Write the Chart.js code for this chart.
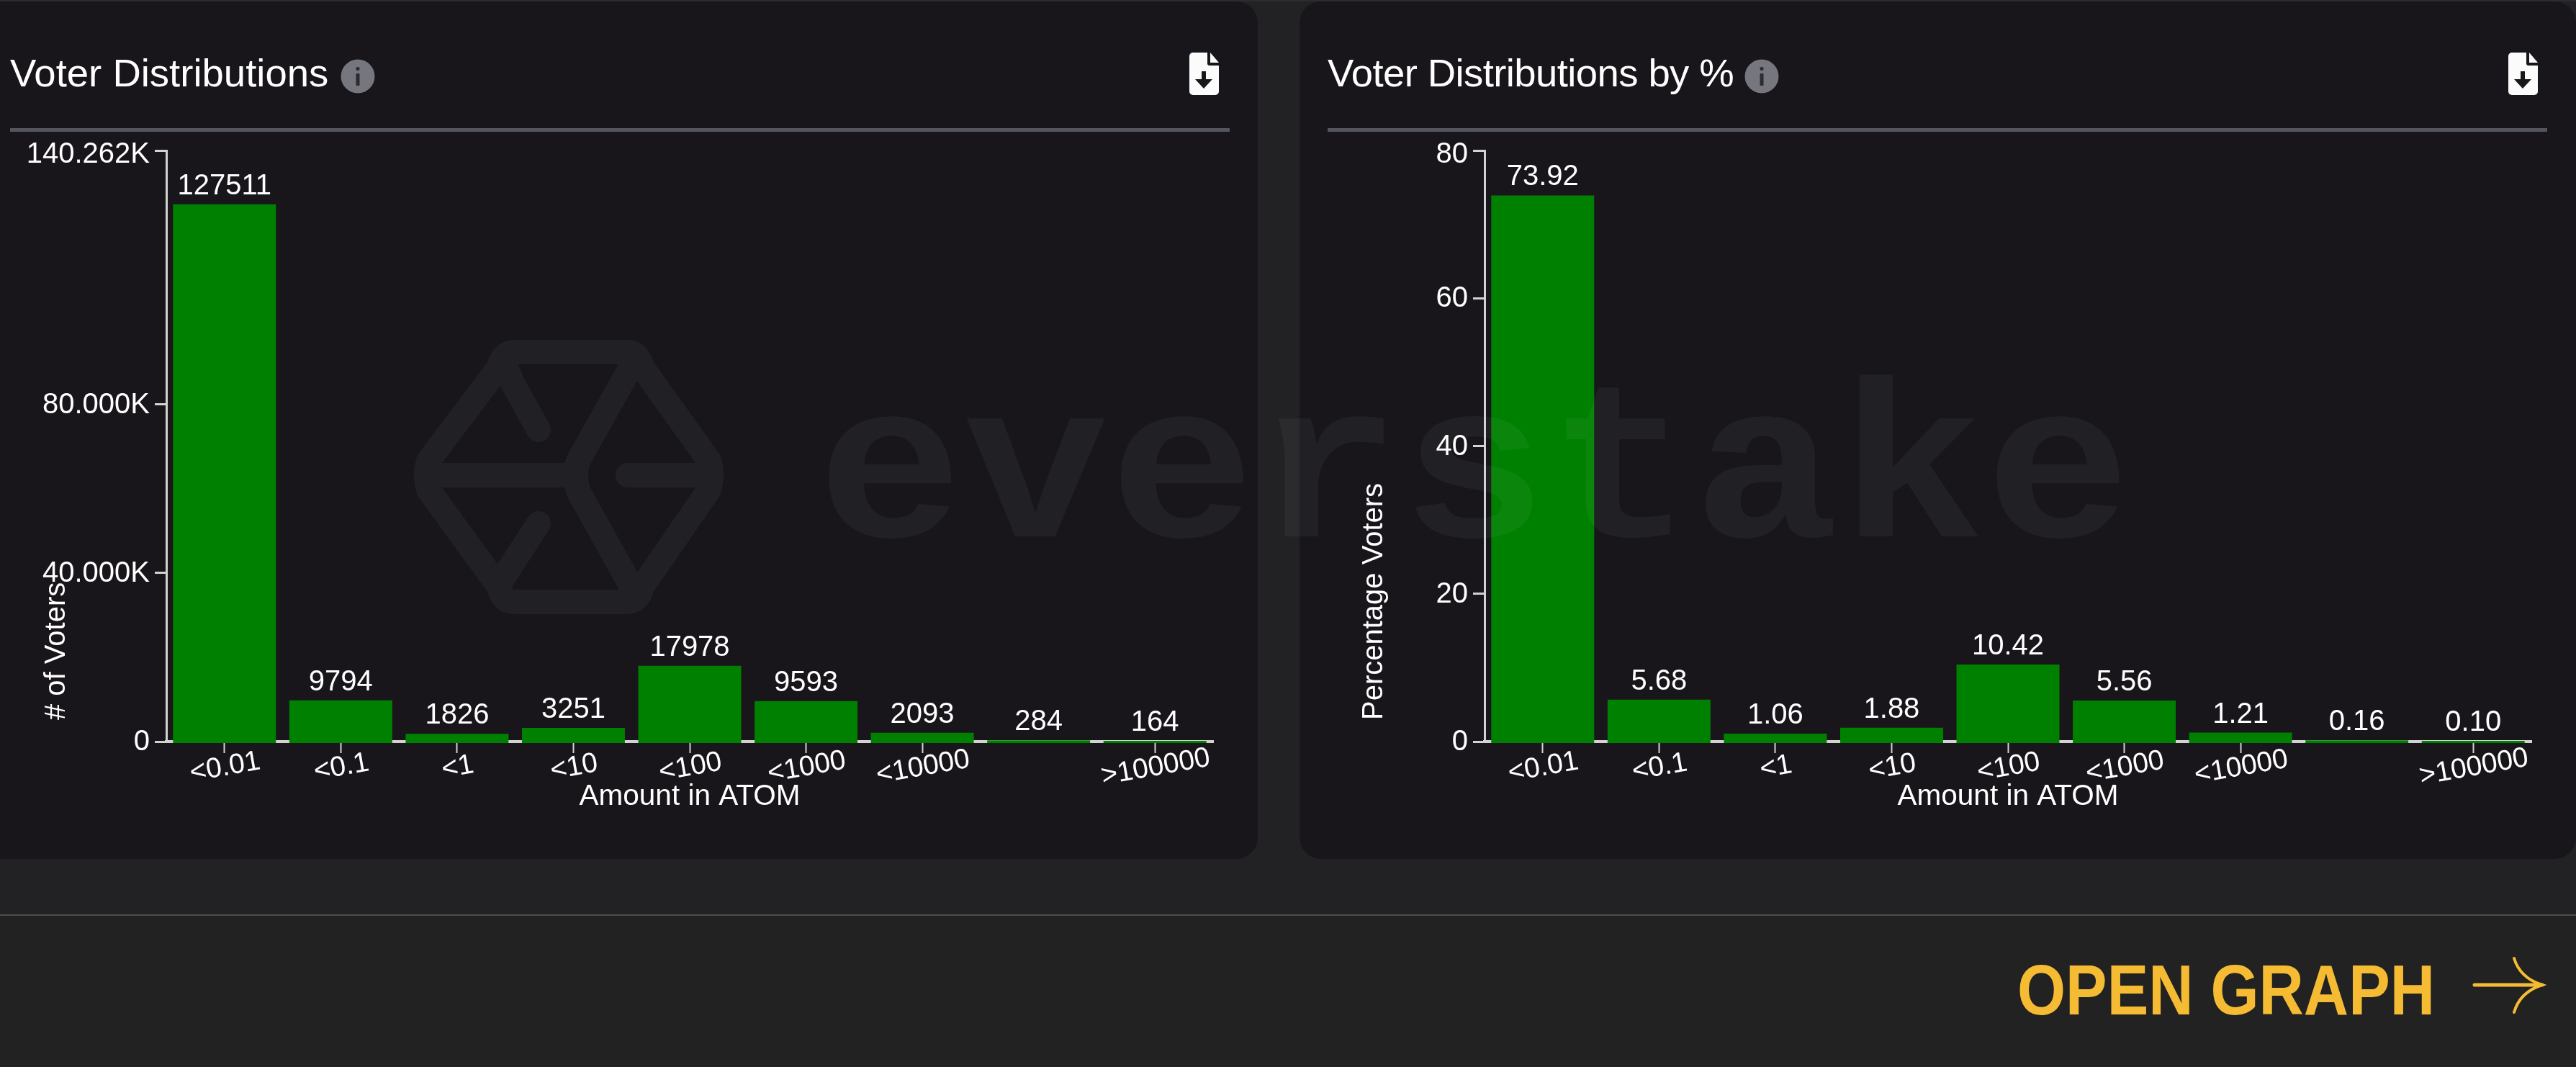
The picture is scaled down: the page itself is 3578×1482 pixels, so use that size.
<!DOCTYPE html>
<html>
<head>
<meta charset="utf-8">
<title>Voter Distributions</title>
<script src="https://cdn.jsdelivr.net/npm/chart.js@4/dist/chart.umd.min.js"></script>
<style>
html,body{margin:0;padding:0;width:3578px;height:1482px;overflow:hidden;background:#222225;font-family:"Liberation Sans",Arial,sans-serif}
.topline{position:absolute;left:0;top:0;width:3578px;height:2px;background:#2c2c2e}
.panel{position:absolute;top:2px;height:1191px;background:#18161b;border-radius:30px}
#p1{left:-30px;width:1777px}
#p2{left:1805px;width:1773px}
.title{position:absolute;top:74px;color:#fff;font-size:54.5px;line-height:55px;white-space:nowrap}
.rule{position:absolute;top:178px;height:5px;background:#55555f}
canvas{position:absolute;top:0}
#footer{position:absolute;left:0;top:1270px;width:3578px;height:212px;background:#222222;border-top:2px solid #4c4c4c;box-sizing:border-box}
svg{position:absolute;left:0;top:0}
</style>
</head>
<body>
<div class="topline"></div>
<div class="panel" id="p1"></div>
<div class="panel" id="p2"></div>
<div id="footer"></div>

<div class="title" style="left:14px">Voter Distributions</div>
<div class="title" style="left:1844px;letter-spacing:-0.6px">Voter Distributions by %</div>
<div class="rule" style="left:14px;width:1694px"></div>
<div class="rule" style="left:1844px;width:1694px"></div>

<canvas id="c1" width="1747" height="1195" style="left:0;width:1747px;height:1195px"></canvas>
<canvas id="c2" width="1773" height="1195" style="left:1805px;width:1773px;height:1195px"></canvas>

<svg width="3578" height="1482" viewBox="0 0 3578 1482">
  <defs>
    <g id="info">
      <circle cx="0" cy="0" r="23.5" fill="#76767e"/>
      <rect x="-2.5" y="-13" width="5" height="5" rx="2" fill="#2b2b30"/>
      <rect x="-2.5" y="-4" width="5" height="17" rx="1" fill="#2b2b30"/>
    </g>
    <g id="dl">
      <path d="M1657 73H1677V88a3 3 0 0 0 3 3H1693V127a5 5 0 0 1-5 5H1657a5 5 0 0 1-5-5V78a5 5 0 0 1 5-5Z" fill="#fbfbfb"/>
      <path d="M1681 73L1693 87H1681Z" fill="#fbfbfb"/>
      <path d="M1669 99H1675V110H1684L1672 123L1660 110H1669Z" fill="#18161b"/>
    </g>
  </defs>
  <use href="#info" x="497" y="106"/>
  <use href="#info" x="2447" y="106"/>
  <use href="#dl"/>
  <use href="#dl" x="1832"/>

  <!-- watermark -->
  <g opacity="0.045">
    <g fill="none" stroke="#fff" stroke-width="34" stroke-linecap="round" stroke-linejoin="round">
      <path d="M714 489H871Q887 489 892 510L985 640Q991 660 985 680L892 815Q887 836 871 836H714Q698 836 693 815L595 680Q589 660 595 640L693 510Q698 489 714 489Z"/>
      <path d="M880 503L803 640Q797 660 803 682L880 820M610 660H795M872 660H978"/>
      <path d="M700 510Q707 515 711 530L748 597M748 727L693 812"/>
    </g>
    <text x="1135" y="745" font-family="Liberation Mono" font-weight="700" font-size="310" fill="#fff" textLength="1825" lengthAdjust="spacingAndGlyphs">everstake</text>
  </g>

  <!-- open graph link -->
  <text x="2802" y="1409" font-family="Liberation Sans" font-weight="700" font-size="98" fill="#f5bc33" textLength="580" lengthAdjust="spacingAndGlyphs">OPEN GRAPH</text>
  <g fill="none" stroke="#f5bc33" stroke-linecap="round">
    <path d="M3437 1368H3531" stroke-width="5"/>
    <path d="M3492 1331Q3500 1358 3531 1368Q3500 1378 3492 1406" stroke-width="4"/>
  </g>
</svg>

<script>
const amountCategories = ["<0.01", "<0.1", "<1", "<10", "<100", "<1000", "<10000", "", ">100000"];
const voterCounts = [127511, 9794, 1826, 3251, 17978, 9593, 2093, 284, 164];
const voterPercents = [73.92, 5.68, 1.06, 1.88, 10.42, 5.56, 1.21, 0.16, 0.10];
const countTicks = [0, 40000, 80000, 140262];
const percentTicks = [0, 20, 40, 60, 80];

const FONT = '"Liberation Sans", Arial, sans-serif';
const AXIS = '#d2d2d2';

const tuneAxes = {
  id: 'tuneAxes',
  beforeDraw(chart) {
    const x = chart.scales.x, y = chart.scales.y;
    x.getLabelItems(chart.chartArea).forEach((item, i) => {
      item.options.textAlign = 'center';
      item.options.textBaseline = 'middle';
      item.textOffset = 0;
      item.options.translation = [x.getPixelForTick(i) + 1, chart.chartArea.bottom + 36];
    });
    const yItems = y.getLabelItems(chart.chartArea);
    yItems.forEach((item, i) => {
      item.options.translation = [item.options.translation[0],
        y.getPixelForTick(i) + (i === yItems.length - 1 ? 6 : 1)];
    });
    if (!y._shifted) {
      const draw = y.drawTitle;
      y.drawTitle = function () {
        const ctx = this.ctx;
        ctx.save();
        ctx.translate(0, -30);
        draw.apply(this, arguments);
        ctx.restore();
      };
      y._shifted = true;
    }
  }
};

const valueLabels = {
  id: 'valueLabels',
  afterDatasetsDraw(chart, args, opts) {
    const ctx = chart.ctx, y = chart.scales.y;
    const bars = chart.getDatasetMeta(0).data;
    const values = chart.data.datasets[0].data;
    ctx.save();
    ctx.font = '40px ' + FONT;
    ctx.fillStyle = '#fff';
    ctx.textAlign = 'center';
    ctx.textBaseline = 'alphabetic';
    bars.forEach((bar, i) => {
      ctx.fillText(opts.format(values[i]), bar.x, y.getPixelForValue(values[i]) - 14);
    });
    ctx.restore();
  }
};

function makeChart(id, opts) {
  return new Chart(document.getElementById(id), {
    type: 'bar',
    data: {
      labels: amountCategories,
      datasets: [{
        data: opts.values,
        backgroundColor: '#008000',
        borderWidth: 0,
        barPercentage: 0.885,
        categoryPercentage: 1,
        base: opts.base,
        clip: false
      }]
    },
    options: {
      responsive: false,
      devicePixelRatio: 1,
      animation: false,
      layout: { padding: { top: 209, right: 62, bottom: 0, left: 0 } },
      plugins: {
        legend: { display: false },
        tooltip: { enabled: false },
        valueLabels: { format: opts.format }
      },
      scales: {
        x: {
          afterFit(s) { s.height = 165; },
          border: { color: AXIS, width: 4 },
          grid: {
            offset: false,
            drawOnChartArea: false,
            tickLength: 16,
            tickWidth: 2,
            tickColor: c => (c.tick && c.tick.label === '' ? 'transparent' : AXIS)
          },
          ticks: {
            autoSkip: false,
            minRotation: 10,
            maxRotation: 10,
            color: '#fff',
            font: { family: FONT, size: 39 }
          },
          title: {
            display: true,
            text: 'Amount in ATOM',
            color: '#fff',
            font: { family: FONT, size: 40.5 },
            padding: { top: 0, bottom: 64 }
          }
        },
        y: {
          min: 0,
          max: opts.max,
          afterFit(s) { s.width = opts.axisWidth; },
          afterBuildTicks(s) { s.ticks = opts.ticks.map(v => ({ value: v })); },
          border: { color: AXIS, width: 3 },
          grid: {
            drawOnChartArea: false,
            tickLength: 16,
            tickWidth: 3,
            tickColor: AXIS
          },
          ticks: {
            autoSkip: false,
            padding: 7,
            color: '#fff',
            font: { family: FONT, size: 40 },
            callback: opts.tickFormat
          },
          title: {
            display: true,
            align: 'start',
            text: opts.yTitle,
            color: '#fff',
            font: { family: FONT, size: 40 },
            padding: { top: opts.yTitlePad, bottom: 0 }
          }
        }
      }
    },
    plugins: [tuneAxes, valueLabels]
  });
}

makeChart('c1', {
  values: voterCounts,
  ticks: countTicks,
  max: 140262,
  base: -340,
  axisWidth: 231,
  yTitle: '# of Voters',
  yTitlePad: 55,
  format: v => String(v),
  tickFormat: v => (v === 0 ? '0' : (v / 1000).toFixed(3) + 'K')
});

makeChart('c2', {
  values: voterPercents,
  ticks: percentTicks,
  max: 80,
  base: -0.2,
  axisWidth: 257,
  yTitle: 'Percentage Voters',
  yTitlePad: 80,
  format: v => v.toFixed(2),
  tickFormat: v => String(v)
});
</script>
</body>
</html>
